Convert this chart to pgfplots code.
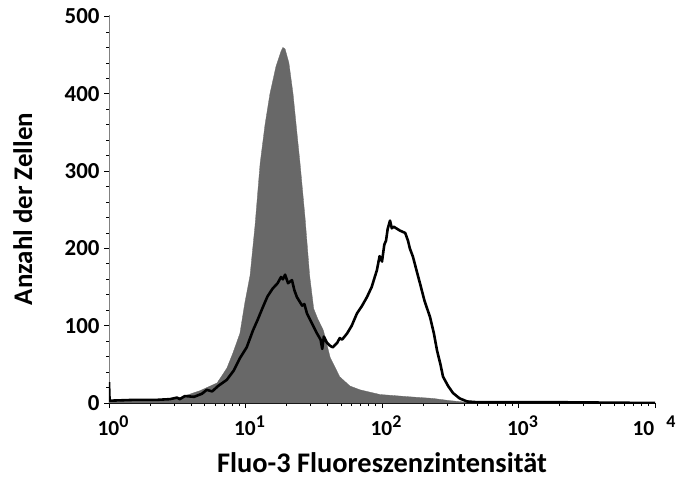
\documentclass[border=0pt]{standalone}
\usepackage{pgfplots}
\pgfplotsset{compat=1.18}
\usepackage{fontspec}
\setmainfont{Carlito}
\definecolor{histgray}{RGB}{104,104,104}
\newcommand{\expo}[1]{\raisebox{0.40em}{\fontsize{18}{18}\selectfont #1}}
\begin{document}
\begin{tikzpicture}
\begin{axis}[
  scale only axis,
  width=546bp, height=388bp,
  xmode=log, xmin=1, xmax=10000,
  ymin=0, ymax=502,
  axis x line=bottom, axis y line=left,
  axis line style={-},
  x axis line style={black, line width=0.8pt},
  y axis line style={gray, line width=0.6pt},
  tick align=outside,
  xtick={1,10,100,1000,10000},
  xticklabels={10\expo{0},10\expo{1},10\expo{2},10\expo{3},\hspace*{-10bp}10\hspace{12bp}\expo{4}},
  ytick={0,100,200,300,400,500},
  minor y tick num=4,
  major tick length=5bp, minor tick length=3bp,
  every tick/.style={black, line width=0.8pt},
  /pgf/number format/assume math mode=true,
  xticklabel style={font=\fontsize{21.5}{24}\selectfont\bfseries, xshift=4bp, yshift=-4bp},
  yticklabel style={font=\fontsize{23}{26}\selectfont\bfseries, xshift=-1bp},
  xlabel={Fluo-3 Fluoreszenzintensität},
  ylabel={Anzahl der Zellen},
  xlabel style={font=\fontsize{28.5}{30}\selectfont\bfseries, inner sep=0pt, at={(axis description cs:0.5,-0.155)}, anchor=center},
  ylabel style={font=\fontsize{27}{30}\selectfont\bfseries, at={(axis description cs:-0.158,0.5)}, anchor=center},
  clip=true,
]
\coordinate (O) at (axis cs:1,0);
\addplot[fill=histgray, draw=histgray, line width=0.3pt] coordinates {
(1,0) (1,2) (2,3) (3.3,7) (4.65,16) (6.2,26) (7.3,45) (8.1,65) (9.1,90) (9.9,130)
(10.8,165) (11.75,230) (12.8,310) (13.9,360) (15.1,400) (16.7,435) (18.2,455)
(18.8,460) (19.5,458) (20.8,440) (22.3,400) (23.8,350) (25.1,310) (27.3,240)
(29.5,165) (31.6,122) (34,108) (37.2,94) (41.7,59) (49,34) (58.2,22) (69.2,17)
(96.6,11) (160,8) (234,6) (316,3) (417,1) (724,0.5) (10000,0) (10000,0) (1,0)
} \closedcycle;
\addplot[black, line width=2.6pt, line join=round] coordinates {
(1,27) (1.01,3) (1.5,4) (2.2,4) (2.8,5) (3.15,7) (3.3,5) (3.6,9) (4.2,8) (4.8,12) (5.2,17) (5.7,15) (6.3,22) (7.3,30)
(8.2,42) (9.1,58) (10.2,72) (11.35,94) (12.3,108) (13.4,124) (14.5,138) (15.8,148)
(17.2,155) (18.2,163) (18.8,160) (19.5,166) (20.5,155) (21.9,159) (22.8,146)
(23.8,137) (26,126) (27,128) (28.2,116) (30.5,104) (33.4,90) (35.5,82) (36.5,70) (37.5,86) (39.5,78)
(41.7,74) (43.6,72) (47,78) (49,84) (51,82) (55.5,90) (60,100) (65.6,116) (71,125)
(77.6,137) (84,150) (91.8,172) (96,190) (100,183) (104,205) (107,210) (110,225) (114.5,236) (118,226) (122,228)
(135.5,223) (148,220) (155,210) (160,200) (168.7,189) (180,170) (189.7,155) (205,132)
(225,111) (240,90) (253,68) (268,50) (280,34) (305,22) (331,13) (370,6) (420,2)
(500,1) (724,1) (1000,1) (2000,1) (10000,0)
};
\end{axis}
\pgfresetboundingbox
\path ([shift={(-109bp,-75bp)}]O) rectangle ([shift={(574bp,403bp)}]O);
\end{tikzpicture}
\end{document}
